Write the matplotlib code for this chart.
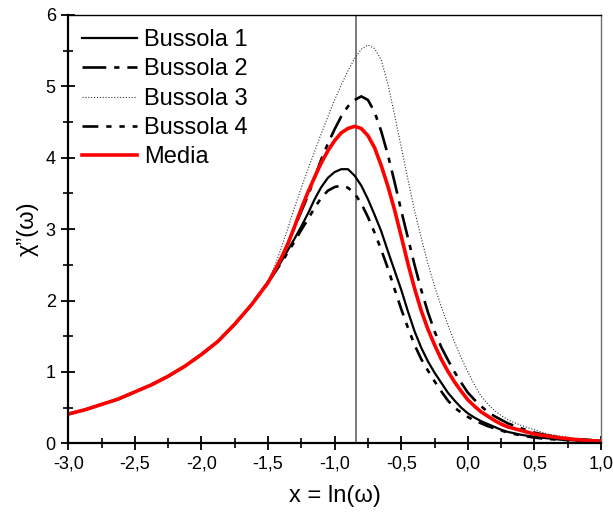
import numpy as np
import matplotlib
matplotlib.use("Agg")
import matplotlib.pyplot as plt
from matplotlib.ticker import FuncFormatter, MultipleLocator

plt.rcParams['font.family'] = ['Liberation Sans', 'DejaVu Sans']

# x = ln(omega)
x_low = [-3.0, -2.875, -2.75, -2.625, -2.5, -2.375, -2.25, -2.125, -2.0,
         -1.875, -1.75, -1.625]
x_mid = [-1.5, -1.45, -1.4, -1.35, -1.3, -1.25, -1.2, -1.15, -1.1, -1.05,
         -1.0, -0.95, -0.9, -0.85, -0.8, -0.75, -0.7, -0.65, -0.6, -0.55,
         -0.5, -0.45, -0.4, -0.35, -0.3, -0.25, -0.2, -0.15, -0.1, -0.05,
         0.0, 0.05, 0.1, 0.15, 0.2, 0.25, 0.3]
x_high = [0.4, 0.5, 0.6, 0.7, 0.8, 0.9, 1.0]
x = x_low + x_mid + x_high

# shared low-frequency part (x < -1.5), identical for all curves
common = [0.41, 0.47, 0.545, 0.62, 0.72, 0.82, 0.94, 1.08, 1.245, 1.43, 1.67, 1.94]

bussola1 = common + [2.25, 2.40, 2.55, 2.71, 2.87, 3.04, 3.22, 3.42, 3.59, 3.72,
                     3.80, 3.84, 3.84, 3.75, 3.61, 3.42, 3.20, 2.97, 2.69, 2.42,
                     2.15, 1.85, 1.57, 1.34, 1.15, 0.99, 0.85, 0.71, 0.60, 0.50,
                     0.42, 0.36, 0.31, 0.27, 0.23, 0.19, 0.16,
                     0.12, 0.09, 0.07, 0.05, 0.04, 0.03, 0.02]
bussola2 = common + [2.26, 2.42, 2.59, 2.80, 3.03, 3.25, 3.47, 3.72, 3.98, 4.20,
                     4.40, 4.58, 4.72, 4.81, 4.86, 4.81, 4.64, 4.37, 4.04, 3.66,
                     3.26, 2.88, 2.50, 2.15, 1.84, 1.57, 1.35, 1.17, 1.00, 0.85,
                     0.71, 0.61, 0.52, 0.44, 0.38, 0.33, 0.28,
                     0.21, 0.15, 0.11, 0.08, 0.06, 0.05, 0.03]
bussola3 = common + [2.28, 2.48, 2.74, 3.02, 3.31, 3.58, 3.84, 4.09, 4.34, 4.58,
                     4.81, 5.02, 5.22, 5.39, 5.52, 5.58, 5.53, 5.37, 5.03, 4.60,
                     4.15, 3.70, 3.26, 2.88, 2.52, 2.20, 1.92, 1.66, 1.42, 1.20,
                     1.00, 0.82, 0.66, 0.55, 0.46, 0.39, 0.33,
                     0.25, 0.19, 0.13, 0.10, 0.07, 0.05, 0.04]
bussola4 = common + [2.25, 2.39, 2.53, 2.68, 2.83, 2.99, 3.14, 3.30, 3.44, 3.54,
                     3.59, 3.61, 3.58, 3.50, 3.36, 3.17, 2.95, 2.71, 2.45, 2.16,
                     1.88, 1.62, 1.38, 1.18, 1.02, 0.87, 0.73, 0.60, 0.50, 0.43,
                     0.37, 0.32, 0.28, 0.24, 0.21, 0.18, 0.15,
                     0.11, 0.08, 0.06, 0.05, 0.04, 0.03, 0.02]
media = common + [2.25, 2.42, 2.60, 2.80, 3.04, 3.29, 3.52, 3.73, 3.93, 4.10,
                  4.24, 4.35, 4.41, 4.44, 4.41, 4.31, 4.14, 3.89, 3.60, 3.27,
                  2.90, 2.52, 2.17, 1.86, 1.60, 1.38, 1.18, 1.01, 0.86, 0.73,
                  0.61, 0.52, 0.44, 0.38, 0.32, 0.27, 0.23,
                  0.18, 0.13, 0.10, 0.075, 0.055, 0.04, 0.03]

x_peak = -0.84

fig = plt.figure(figsize=(6.13, 5.15), dpi=100)
ax = fig.add_axes([0.1114, 0.1392, 0.8690, 0.8317])

ax.axvline(x_peak, color='#707070', lw=1.3, zorder=1)
ax.plot(x, bussola1, color='black', lw=1.6, label='Bussola 1')
ax.plot(x, bussola2, color='black', lw=1.9, dashes=(9, 3, 2, 3), label='Bussola 2')
ax.plot(x, bussola3, color='#333333', lw=0.8, dashes=(1, 1.6), label='Bussola 3')
ax.plot(x, bussola4, color='black', lw=1.9, dashes=(6, 3, 2, 3, 2, 3), label='Bussola 4')
ax.plot(x, media, color='#ff0000', lw=2.6, label='Media')

ax.set_xlim(-3, 1)
ax.set_ylim(0, 6)
ax.xaxis.set_major_locator(MultipleLocator(0.5))
ax.xaxis.set_minor_locator(MultipleLocator(0.25))
ax.yaxis.set_major_locator(MultipleLocator(1))
ax.yaxis.set_minor_locator(MultipleLocator(0.5))
ax.xaxis.set_major_formatter(FuncFormatter(lambda v, p: f"{v:.1f}".replace('.', ',')))
ax.yaxis.set_major_formatter(FuncFormatter(lambda v, p: f"{v:.0f}"))

ax.tick_params(which='major', direction='inout', length=10, width=1.3, labelsize=13,
               top=False, right=False, pad=4)
ax.tick_params(which='minor', direction='inout', length=7, width=1.2,
               top=False, right=False)
for side in ['left', 'bottom']:
    ax.spines[side].set_linewidth(1.6)
ax.spines['top'].set_linewidth(1.0)
ax.spines['right'].set_linewidth(1.0)
ax.spines['right'].set_color('#707070')

ax.set_xlabel('x = ln(ω)', fontsize=17, labelpad=9)
ax.set_ylabel('χ\u201d(ω)', fontsize=17, labelpad=5)

ax.legend(loc='upper left', frameon=False, fontsize=17, handlelength=2.3,
          handletextpad=0.3, labelspacing=0.31, borderaxespad=0.2,
          bbox_to_anchor=(0.0, 1.0))

fig.savefig('out.png', dpi=100)
